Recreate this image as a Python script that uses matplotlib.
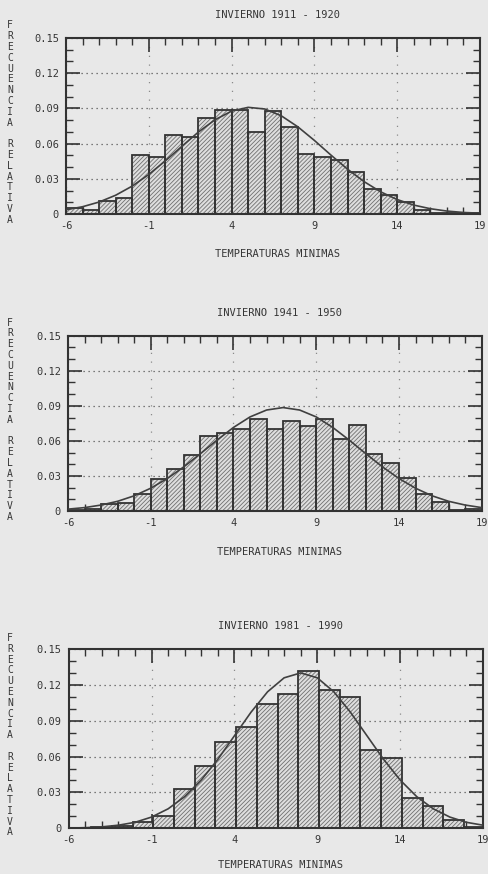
import matplotlib
matplotlib.use('Agg')
import matplotlib.pyplot as plt
from matplotlib.ticker import MultipleLocator

# datos
titles = ['INVIERNO 1911 - 1920', 'INVIERNO 1941 - 1950', 'INVIERNO 1981 - 1990']

edges_1911 = [-6, -5, -4, -3, -2, -1, 0, 1, 2, 3, 4, 5, 6, 7, 8, 9, 10, 11, 12, 13, 14, 15, 16, 17, 18]
freq_1911 = [0.005, 0.0035, 0.011, 0.014, 0.050, 0.049, 0.067, 0.066, 0.082, 0.089, 0.089, 0.070,
             0.088, 0.074, 0.051, 0.049, 0.046, 0.036, 0.021, 0.016, 0.010, 0.003, 0.001, 0.001, 0.0005]

edges_1941 = [-6, -5, -4, -3, -2, -1, 0, 1, 2, 3, 4, 5, 6, 7, 8, 9, 10, 11, 12, 13, 14, 15, 16, 17, 18]
freq_1941 = [0.001, 0.002, 0.006, 0.0065, 0.0145, 0.027, 0.036, 0.048, 0.064, 0.067, 0.070, 0.079,
             0.070, 0.077, 0.0727, 0.079, 0.0616, 0.0735, 0.049, 0.041, 0.0285, 0.0145, 0.008, 0.001, 0.002]

edges_1981 = [-5.9, -4.65, -3.4, -2.15, -0.9, 0.35, 1.6, 2.85, 4.1, 5.35, 6.6, 7.85, 9.1, 10.35,
              11.6, 12.85, 14.1, 15.35, 16.6, 17.85]
freq_1981 = [0.0005, 0.001, 0.002, 0.0055, 0.010, 0.0326, 0.052, 0.0725, 0.0845, 0.104, 0.112, 0.132,
             0.116, 0.110, 0.0655, 0.0586, 0.025, 0.019, 0.007, 0.001]

bin_widths = [1.0, 1.0, 1.25]

curve_x = [-6, -5, -4, -3, -2, -1, 0, 1, 2, 3, 4, 5, 6, 7, 8, 9, 10, 11, 12, 13, 14, 15, 16, 17, 18, 19]
curve_1911 = [0.0036, 0.0062, 0.0102, 0.0160, 0.0238, 0.0337, 0.0453, 0.0577, 0.0699, 0.0803, 0.0877,
              0.0909, 0.0895, 0.0837, 0.0743, 0.0627, 0.0502, 0.0382, 0.0276, 0.0189, 0.0123, 0.0076,
              0.0045, 0.0025, 0.0013, 0.0007]
curve_1941 = [0.0016, 0.0029, 0.0051, 0.0083, 0.0130, 0.0195, 0.0278, 0.0378, 0.0490, 0.0606, 0.0715,
              0.0805, 0.0864, 0.0885, 0.0864, 0.0805, 0.0715, 0.0606, 0.0490, 0.0378, 0.0278, 0.0195,
              0.0130, 0.0083, 0.0051, 0.0029]
curve_1981 = [0.0002, 0.0005, 0.0012, 0.0026, 0.0050, 0.0094, 0.0163, 0.0265, 0.0404, 0.0577, 0.0774,
              0.0971, 0.1142, 0.1259, 0.1300, 0.1259, 0.1142, 0.0971, 0.0774, 0.0577, 0.0404, 0.0265,
              0.0163, 0.0094, 0.0050, 0.0026]

xticks = [-6, -1, 4, 9, 14, 19]
yticks = [0, 0.03, 0.06, 0.09, 0.12, 0.15]
ytick_labels = ['0', '0.03', '0.06', '0.09', '0.12', '0.15']

W, H = 488, 874
bg = '#e8e8e8'
ink = '#333333'
txt = '#363636'
plt.rcParams['font.family'] = 'DejaVu Sans Mono'
plt.rcParams['hatch.linewidth'] = 0.6

fig = plt.figure(figsize=(W / 100, H / 100), dpi=100, facecolor=bg)

# cajas de los ejes en pixeles: izq, der, arriba, abajo
boxes = [(66, 480, 38, 214), (68, 481.7, 335.7, 511), (68.7, 483, 649, 828.3)]
title_y = [15, 313, 626]
xlabel_y = [254, 552, 865]

panels = [(edges_1911, freq_1911, curve_1911),
          (edges_1941, freq_1941, curve_1941),
          (edges_1981, freq_1981, curve_1981)]

for i, (edges, freq, curve) in enumerate(panels):
    l, r, t, b = boxes[i]
    ax = fig.add_axes([l / W, 1 - b / H, (r - l) / W, (b - t) / H])
    ax.set_facecolor(bg)
    ax.set_axisbelow(True)

    ax.bar(edges, freq, width=bin_widths[i], align='edge', color='#dedede',
           hatch='////////', edgecolor='#707070', linewidth=0, zorder=2)
    ax.bar(edges, freq, width=bin_widths[i], align='edge', fill=False,
           edgecolor=ink, linewidth=1.3, zorder=3)
    ax.plot(curve_x, curve, color='#404040', linewidth=1.2, zorder=4)

    ax.set_xlim(-6, 19)
    ax.set_ylim(0, 0.15)
    ax.set_xticks(xticks)
    ax.set_xticklabels([str(v) for v in xticks])
    ax.set_yticks(yticks)
    ax.set_yticklabels(ytick_labels)
    ax.xaxis.set_minor_locator(MultipleLocator(1))
    ax.yaxis.set_minor_locator(MultipleLocator(0.01))
    ax.tick_params(which='both', direction='in', top=True, right=True,
                   color=ink, labelsize=7.5, labelcolor=txt)
    ax.tick_params(which='major', length=10, width=1.2, pad=5)
    ax.tick_params(which='minor', length=5, width=1.0)

    ax.grid(axis='y', which='major', linestyle=(0, (1, 3)), color='#555555', linewidth=0.9)
    ax.grid(axis='x', which='major', linestyle=(0, (1, 6)), color='#8a8a8a', linewidth=0.9)

    for s in ax.spines.values():
        s.set_color(ink)
        s.set_linewidth(1.5)
    ax.spines['bottom'].set_zorder(5)

    cx = (l + r) / 2 / W + 0.01
    fig.text(cx, 1 - title_y[i] / H, titles[i], ha='center', va='center',
             fontsize=7.5, color=txt)
    fig.text(cx, 1 - xlabel_y[i] / H, 'TEMPERATURAS MINIMAS', ha='center', va='center',
             fontsize=7.5, color=txt)
    ylab = '\n'.join('FRECUENCIA RELATIVA')
    fig.text(10 / W, 1 - (t + b) / 2 / H + 0.004, ylab, ha='center', va='center',
             fontsize=7, color=txt, linespacing=1.1)

fig.savefig('out.png', dpi=100, facecolor=bg)
